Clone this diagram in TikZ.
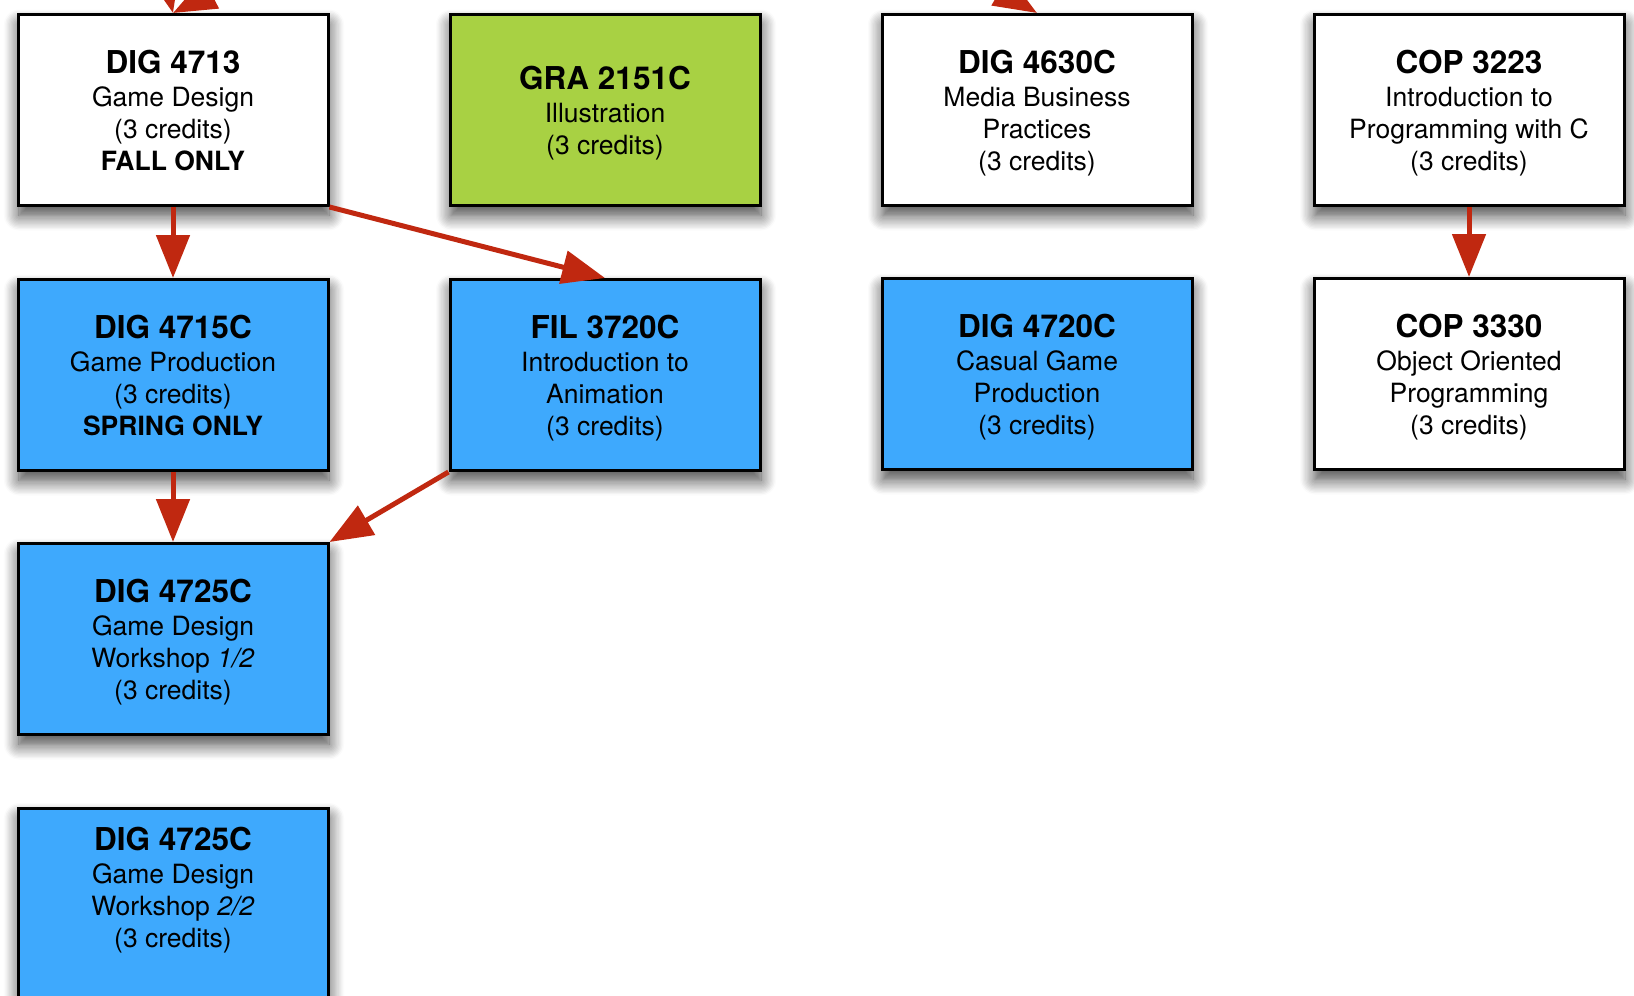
\documentclass[tikz,border=0pt]{standalone}
\usepackage{fontspec}
\setmainfont{TeX Gyre Heros}
\usetikzlibrary{arrows.meta,shadows.blur}
\definecolor{coursebl}{RGB}{62,169,253}
\definecolor{coursegr}{RGB}{168,209,67}
\definecolor{arrowred}{RGB}{192,40,16}
\newcommand{\ctitle}[1]{{\fontsize{31.5}{34}\selectfont\bfseries #1}\\[1pt]}
\newcommand{\cred}{\raisebox{0pt}[\height][0pt]{(3 credits)}}

\begin{document}
\begin{tikzpicture}[x=1pt,y=-1pt,
	course/.style={draw=black, line width=3pt, fill=white, minimum width=310pt, minimum height=191pt, align=center, inner sep=0pt, font=\fontsize{26.5}{32}\selectfont, blur shadow={shadow xshift=1pt, shadow yshift=-10pt, shadow blur radius=15pt, shadow blur steps=12, shadow opacity=75}},
	bluebox/.style={course, fill=coursebl},
	greenbox/.style={course, fill=coursegr},
	prereq/.style={draw=arrowred, line width=5pt, -{Triangle[width=33pt,length=43pt]}}]
	\clip (0,0) rectangle (1634,996);
	%\draw[help lines] (0,0) grid[step=100] (1634,996);
	% first row
	\node[course] (dig4713) at (173,110) {\ctitle{DIG 4713}Game Design\\\cred\\\textbf{FALL ONLY}};
	\node[greenbox] (gra2151) at (605,110) {\ctitle{GRA 2151C}Illustration\\\cred};
	\node[course] (dig4630) at (1037,110) {\ctitle{DIG 4630C}Media Business\\Practices\\\cred};
	\node[course] (cop3223) at (1469,110) {\ctitle{COP 3223}Introduction to\\Programming with C\\\cred};
	% second row
	\node[bluebox] (dig4715) at (173,375) {\ctitle{DIG 4715C}Game Production\\\cred\\\textbf{SPRING ONLY}};
	\node[bluebox] (fil3720) at (605,375) {\ctitle{FIL 3720C}Introduction to\\Animation\\\cred};
	\node[bluebox] (dig4720) at (1037,374) {\ctitle{DIG 4720C}Casual Game\\Production\\\cred};
	\node[course] (cop3330) at (1469,374) {\ctitle{COP 3330}Object Oriented\\Programming\\\cred};
	% workshops
	\node[bluebox] (dig4725a) at (173,639) {\ctitle{DIG 4725C}Game Design\\Workshop \textit{1/2}\\\cred};
	\node[bluebox, minimum height=224pt] (dig4725b) at (173,920) {\ctitle{DIG 4725C}Game Design\\Workshop \textit{2/2}\\\cred\rule[-66pt]{0pt}{66pt}};
	% arrows from above the page
	\coordinate (up4713a) at (135,-150);
	\coordinate (up4713b) at (470,-140);
	\coordinate (up4630) at (640,-226);
	\draw[prereq] (up4713a) -- (dig4713.north);
	\draw[prereq] (up4713b) -- (dig4713.north);
	\draw[prereq] (up4630) -- (dig4630.north);
	% prerequisites
	\draw[prereq] (dig4713) -- (dig4715);
	\draw[prereq] (dig4713.south east) -- (fil3720.north);
	\draw[prereq] (dig4715) -- (dig4725a);
	\draw[prereq] (fil3720.south west) -- (dig4725a.north east);
	\draw[prereq] (cop3223) -- (cop3330);
\end{tikzpicture}
\end{document}
